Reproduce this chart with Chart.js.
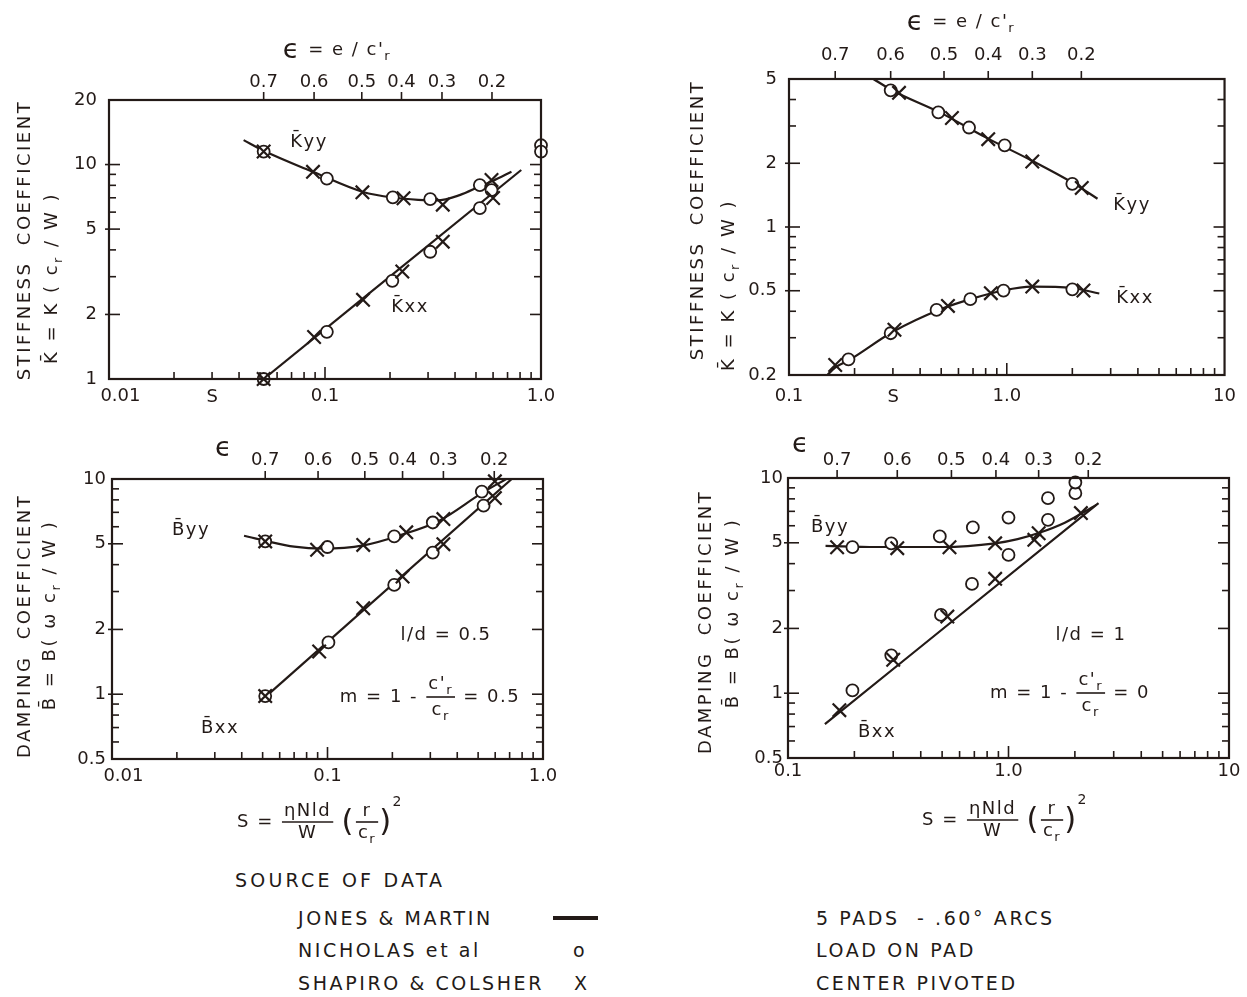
<!DOCTYPE html>
<html>
<head>
<meta charset="utf-8">
<title>Tilting pad bearing coefficients</title>
<script src="https://cdn.jsdelivr.net/npm/chart.js@4.4.1/dist/chart.umd.min.js"></script>
<style>
  body { margin: 0; background: #fff; }
  #page { position: relative; width: 1247px; height: 997px; overflow: hidden; background: #fff;
          font-family: "DejaVu Sans", sans-serif; color: #231a17; }
  #page canvas { position: absolute; }
  .lg { position: absolute; font-size: 19px; line-height: 20px; letter-spacing: 2.6px; white-space: pre; }
  .dash { position: absolute; height: 4px; background: #231a17; }
</style>
</head>
<body>
<div id="page">
  <canvas id="c1" width="624" height="420" style="left:0;top:0"></canvas>
  <canvas id="c2" width="623" height="420" style="left:624px;top:0"></canvas>
  <canvas id="c3" width="624" height="430" style="left:0;top:420px"></canvas>
  <canvas id="c4" width="623" height="430" style="left:624px;top:420px"></canvas>

  <div class="lg" style="left:235px;top:870px;letter-spacing:3.2px">SOURCE OF DATA</div>
  <div class="lg" style="left:298px;top:908px">JONES &amp; MARTIN</div>
  <div class="dash" style="left:553px;top:916px;width:45px"></div>
  <div class="lg" style="left:298px;top:940px">NICHOLAS et al</div>
  <div class="lg" style="left:573px;top:940px">o</div>
  <div class="lg" style="left:298px;top:973px">SHAPIRO &amp; COLSHER</div>
  <div class="lg" style="left:574px;top:973px">X</div>
  <div class="lg" style="left:816px;top:908px">5 PADS  - .60° ARCS</div>
  <div class="lg" style="left:816px;top:940px">LOAD ON PAD</div>
  <div class="lg" style="left:816px;top:973px">CENTER PIVOTED</div>
</div>

<script>
const INK = '#231a17';
const FONT = '"DejaVu Sans", sans-serif';

// ---------- Panel 1: stiffness, l/d = 0.5, m = 0.5 ----------
const p1EpsLabels = ['0.7', '0.6', '0.5', '0.4', '0.3', '0.2'];
const p1EpsS = [0.052, 0.089, 0.148, 0.226, 0.348, 0.593];
const p1XTicks = [0.01, 0.1, 1.0];
const p1XLabels = ['    0.01', '0.1', '1.0'];
const p1YTicks = [1, 2, 5, 10, 20];
const p1YLabels = ['1', '2', '5', '10', '20'];
// Jones & Martin (curves)
const p1KyyLineS = [0.042, 0.052, 0.089, 0.15, 0.21, 0.27, 0.33, 0.42, 0.52, 0.6, 0.73];
const p1KyyLine  = [13.0, 11.6, 9.2, 7.45, 7.0, 6.85, 6.8, 7.2, 7.9, 8.4, 9.25];
const p1KxxLineS = [0.052, 0.81];
const p1KxxLine  = [1.0, 9.43];
// Nicholas et al (circles)
const p1KyyOS = [0.052, 0.102, 0.206, 0.307, 0.521, 1.0, 1.0];
const p1KyyO  = [11.5, 8.6, 7.03, 6.9, 8.02, 12.3, 11.5];
const p1KxxOS = [0.052, 0.102, 0.205, 0.307, 0.521, 0.59];
const p1KxxO  = [1.0, 1.66, 2.87, 3.92, 6.26, 7.6];
// Shapiro & Colsher (crosses)
const p1KyyXS = [0.052, 0.088, 0.149, 0.231, 0.351, 0.59];
const p1KyyX  = [11.5, 9.25, 7.42, 6.96, 6.5, 8.47];
const p1KxxXS = [0.052, 0.089, 0.150, 0.228, 0.351, 0.60];
const p1KxxX  = [1.0, 1.57, 2.34, 3.17, 4.37, 6.98];

// ---------- Panel 2: stiffness, l/d = 1, m = 0 ----------
const p2EpsLabels = ['0.7', '0.6', '0.5', '0.4', '0.3', '0.2'];
const p2EpsS = [0.163, 0.293, 0.515, 0.822, 1.31, 2.20];
const p2XTicks = [0.1, 1.0, 10];
const p2XLabels = ['0.1', '1.0', '10'];
const p2YTicks = [0.2, 0.5, 1, 2, 5];
const p2YLabels = ['0.2', '0.5', '1', '2', '5'];
const p2KyyLineS = [0.244, 0.3, 0.5, 0.8, 1.3, 2.0, 2.61];
const p2KyyLine  = [5.0, 4.4, 3.45, 2.65, 2.06, 1.62, 1.36];
const p2KxxLineS = [0.150, 0.163, 0.19, 0.3, 0.5, 0.7, 0.95, 1.3, 2.0, 2.66];
const p2KxxLine  = [0.2, 0.217, 0.236, 0.32, 0.41, 0.46, 0.50, 0.523, 0.515, 0.485];
const p2KyyOS = [0.293, 0.485, 0.671, 0.978, 2.0];
const p2KyyO  = [4.42, 3.48, 2.95, 2.43, 1.60];
const p2KxxOS = [0.1875, 0.293, 0.476, 0.680, 0.966, 2.0];
const p2KxxO  = [0.237, 0.315, 0.406, 0.456, 0.501, 0.508];
const p2KyyXS = [0.320, 0.560, 0.822, 1.31, 2.21];
const p2KyyX  = [4.30, 3.27, 2.60, 2.04, 1.53];
const p2KxxXS = [0.163, 0.305, 0.537, 0.845, 1.31, 2.25];
const p2KxxX  = [0.223, 0.327, 0.424, 0.487, 0.523, 0.501];

// ---------- Panel 3: damping, l/d = 0.5, m = 0.5 ----------
const p3EpsLabels = ['0.7', '0.6', '0.5', '0.4', '0.3', '0.2'];
const p3EpsS = [0.0514, 0.0904, 0.149, 0.223, 0.345, 0.594];
const p3XTicks = [0.01, 0.1, 1.0];
const p3XLabels = ['    0.01', '0.1', '1.0'];
const p3YTicks = [0.5, 1, 2, 5, 10];
const p3YLabels = ['0.5', '1', '2', '5', '10'];
const p3ByyLineS = [0.041, 0.052, 0.07, 0.095, 0.147, 0.22, 0.33, 0.52, 0.675];
const p3ByyLine  = [5.45, 5.15, 4.85, 4.75, 4.92, 5.5, 6.4, 8.6, 10];
const p3BxxLineS = [0.052, 0.716];
const p3BxxLine  = [0.98, 10];
const p3ByyOS = [0.0514, 0.0999, 0.204, 0.308, 0.520];
const p3ByyO  = [5.13, 4.83, 5.41, 6.28, 8.74];
const p3BxxOS = [0.0514, 0.101, 0.204, 0.308, 0.530];
const p3BxxO  = [0.98, 1.74, 3.22, 4.55, 7.52];
const p3ByyXS = [0.0514, 0.0895, 0.1465, 0.232, 0.345, 0.598];
const p3ByyX  = [5.13, 4.69, 4.94, 5.65, 6.51, 9.75];
const p3BxxXS = [0.0514, 0.0915, 0.1465, 0.223, 0.345, 0.598];
const p3BxxX  = [0.98, 1.58, 2.51, 3.52, 4.98, 8.15];

// ---------- Panel 4: damping, l/d = 1, m = 0 ----------
const p4EpsLabels = ['0.7', '0.6', '0.5', '0.4', '0.3', '0.2'];
const p4EpsS = [0.167, 0.313, 0.551, 0.877, 1.37, 2.30];
const p4XTicks = [0.1, 1.0, 10];
const p4XLabels = ['0.1', '1.0', '10'];
const p4YTicks = [0.5, 1, 2, 5, 10];
const p4YLabels = ['0.5', '1', '2', '5', '10'];
const p4ByyLineS = [0.148, 0.25, 0.5, 0.87, 1.1, 1.37, 1.8, 2.5];
const p4ByyLine  = [4.84, 4.78, 4.78, 4.97, 5.2, 5.55, 6.2, 7.5];
const p4BxxLineS = [0.147, 2.56];
const p4BxxLine  = [0.718, 7.64];
const p4ByyOS = [0.196, 0.294, 0.488, 0.689, 1.0, 1.0, 1.51, 1.51, 2.01, 2.01];
const p4ByyO  = [4.77, 4.97, 5.35, 5.89, 6.55, 4.39, 6.39, 8.06, 8.5, 9.53];
const p4BxxOS = [0.196, 0.294, 0.494, 0.683];
const p4BxxO  = [1.03, 1.50, 2.31, 3.22];
const p4ByyXS = [0.167, 0.313, 0.540, 0.870, 1.37, 2.13];
const p4ByyX  = [4.77, 4.72, 4.77, 4.97, 5.54, 6.87];
const p4BxxXS = [0.171, 0.300, 0.528, 0.870, 1.31];
const p4BxxX  = [0.834, 1.43, 2.27, 3.40, 5.16];

// ---------- text helpers ----------
// "_{..}" = subscript, "^{..}" = superscript
function parseRich(str) {
    const out = [];
    str.split(/(_\{[^}]*\}|\^\{[^}]*\})/).forEach(tok => {
        if (!tok) return;
        if (tok.startsWith('_{')) out.push({ t: tok.slice(2, -1), s: 'sub' });
        else if (tok.startsWith('^{')) out.push({ t: tok.slice(2, -1), s: 'sup' });
        else out.push({ t: tok });
    });
    return out;
}

function setFont(ctx, size) { ctx.font = size + 'px ' + FONT; }

function richWidth(ctx, str, size) {
    let w = 0;
    parseRich(str).forEach(p => {
        setFont(ctx, p.s ? Math.round(size * 0.72) : size);
        w += ctx.measureText(p.t).width;
    });
    return w;
}

function drawRich(ctx, str, x, y, size) {
    parseRich(str).forEach(p => {
        setFont(ctx, p.s ? Math.round(size * 0.72) : size);
        const dy = p.s === 'sub' ? size * 0.36 : p.s === 'sup' ? -size * 0.42 : 0;
        ctx.fillText(p.t, x, y + dy);
        x += ctx.measureText(p.t).width;
    });
    return x;
}

// items: ['t', text] | ['f', num, den] | ['b', text, scale] | ['p', superscript]
function itemWidth(ctx, it, size) {
    if (it[0] === 't') return richWidth(ctx, it[1], size);
    if (it[0] === 'f') return Math.max(richWidth(ctx, it[1], size), richWidth(ctx, it[2], size)) + 6;
    if (it[0] === 'b') { setFont(ctx, size * it[2]); return ctx.measureText(it[1]).width; }
    setFont(ctx, Math.round(size * 0.75)); return ctx.measureText(it[1]).width;
}

function drawFormula(ctx, f) {
    const size = f.size || 18;
    const widths = f.items.map(it => itemWidth(ctx, it, size));
    const total = widths.reduce((a, b) => a + b, 0);
    let x = f.x - total / 2;
    f.items.forEach((it, i) => {
        const w = widths[i];
        if (it[0] === 't') {
            drawRich(ctx, it[1], x, f.y, size);
        } else if (it[0] === 'f') {
            const off = f.fracOff || 12;
            drawRich(ctx, it[1], x + (w - richWidth(ctx, it[1], size)) / 2, f.y - off, size);
            drawRich(ctx, it[2], x + (w - richWidth(ctx, it[2], size)) / 2, f.y + off, size);
            ctx.lineWidth = 1.6;
            ctx.beginPath(); ctx.moveTo(x + 1, f.y); ctx.lineTo(x + w - 1, f.y); ctx.stroke();
        } else if (it[0] === 'b') {
            setFont(ctx, size * it[2]); ctx.fillText(it[1], x, f.y + 1);
        } else {
            setFont(ctx, Math.round(size * 0.75)); ctx.fillText(it[1], x, f.y - size * 1.1);
        }
        x += w;
    });
}

// ---------- annotations per panel (frame, inward ticks, labels) ----------
const notes = {
    c1: {
        eps: p1EpsS, yMajor: p1YTicks,
        texts: [
            { x: 337, y: 50, items: [['b', 'ϵ', 1.5], ['t', " = e / c'_{r}"]] },
            { x: 309, y: 142, items: [['t', 'K\u0304yy']] },
            { x: 410, y: 307, items: [['t', 'K\u0304xx']] },
            { x: 213, y: 397, items: [['t', 'S']] }
        ],
        rot: [
            { x: 25, y: 240, s: 'STIFFNESS  COEFFICIENT' },
            { x: 52, y: 278, s: 'K\u0304 = K ( c_{r} / W )' }
        ]
    },
    c2: {
        eps: p2EpsS, yMajor: p2YTicks,
        texts: [
            { x: 337, y: 22, items: [['b', 'ϵ', 1.5], ['t', " = e / c'_{r}"]] },
            { x: 508, y: 205, items: [['t', 'K\u0304yy']] },
            { x: 511, y: 298, items: [['t', 'K\u0304xx']] },
            { x: 270, y: 397, items: [['t', 'S']] }
        ],
        rot: [
            { x: 74, y: 220, s: 'STIFFNESS  COEFFICIENT' },
            { x: 105, y: 285, s: 'K\u0304 = K ( c_{r} / W )' }
        ]
    },
    c3: {
        eps: p3EpsS, yMajor: p3YTicks,
        texts: [
            { x: 224, y: 28, items: [['b', 'ϵ', 1.5]] },
            { x: 191, y: 110, items: [['t', 'B\u0304yy']] },
            { x: 220, y: 308, items: [['t', 'B\u0304xx']] },
            { x: 446, y: 215, items: [['t', 'l/d = 0.5']] },
            { x: 430, y: 277, fracOff: 13, items: [['t', 'm = 1 - '], ['f', "c'_{r}", 'c_{r}'], ['t', ' = 0.5']] },
            { x: 320, y: 402, fracOff: 11, items: [['t', 'S = '], ['f', 'ηNld', 'W'], ['t', ' '], ['b', '(', 1.7], ['f', 'r', 'c_{r}'], ['b', ')', 1.7], ['p', '2']] }
        ],
        rot: [
            { x: 25, y: 206, s: 'DAMPING  COEFFICIENT' },
            { x: 50, y: 195, s: 'B\u0304 = B( ω c_{r} / W )' }
        ]
    },
    c4: {
        eps: p4EpsS, yMajor: p4YTicks,
        texts: [
            { x: 177, y: 24, items: [['b', 'ϵ', 1.5]] },
            { x: 206, y: 107, items: [['t', 'B\u0304yy']] },
            { x: 253, y: 312, items: [['t', 'B\u0304xx']] },
            { x: 467, y: 215, items: [['t', 'l/d = 1']] },
            { x: 446, y: 273, fracOff: 13, items: [['t', 'm = 1 - '], ['f', "c'_{r}", 'c_{r}'], ['t', ' = 0']] },
            { x: 381, y: 400, fracOff: 11, items: [['t', 'S = '], ['f', 'ηNld', 'W'], ['t', ' '], ['b', '(', 1.7], ['f', 'r', 'c_{r}'], ['b', ')', 1.7], ['p', '2']] }
        ],
        rot: [
            { x: 82, y: 202, s: 'DAMPING  COEFFICIENT' },
            { x: 109, y: 193, s: 'B\u0304 = B( ω c_{r} / W )' }
        ]
    }
};

// values 2..9 x 10^k strictly inside (min, max)
function logMarks(min, max) {
    const out = [];
    for (let k = Math.floor(Math.log10(min)); k <= Math.ceil(Math.log10(max)); k++) {
        for (let m = 1; m <= 9; m++) {
            const v = m * Math.pow(10, k);
            if (v > min * 1.001 && v < max * 0.999) out.push({ v, decade: m === 1 });
        }
    }
    return out;
}

const decoPlugin = {
    id: 'deco',
    afterDraw(chart) {
        const n = notes[chart.canvas.id];
        if (!n) return;
        const ctx = chart.ctx, a = chart.chartArea;
        const sx = chart.scales.x, sy = chart.scales.y;
        const seg = (x1, y1, x2, y2) => { ctx.beginPath(); ctx.moveTo(x1, y1); ctx.lineTo(x2, y2); ctx.stroke(); };
        ctx.save();
        ctx.strokeStyle = INK;
        ctx.fillStyle = INK;
        ctx.lineWidth = 1.6;
        // bottom ticks, pointing in
        logMarks(sx.min, sx.max).forEach(t => {
            const px = sx.getPixelForValue(t.v);
            seg(px, a.bottom, px, a.bottom - (t.decade ? 12 : 7));
        });
        // left and right ticks, pointing in
        logMarks(sy.min, sy.max).forEach(t => {
            const py = sy.getPixelForValue(t.v);
            const big = n.yMajor.some(v => Math.abs(v - t.v) < 1e-9);
            seg(a.left - (big ? 4 : 0), py, a.left + (big ? 11 : 7), py);
            seg(a.right - (big ? 11 : 7), py, a.right, py);
        });
        // eccentricity ticks on top, pointing out
        n.eps.forEach(v => {
            const px = sx.getPixelForValue(v);
            seg(px, a.top, px, a.top - 8);
        });
        // frame
        ctx.lineWidth = 2.2;
        ctx.strokeRect(a.left, a.top, a.right - a.left, a.bottom - a.top);

        ctx.textBaseline = 'middle';
        ctx.textAlign = 'left';
        ctx.letterSpacing = '1.5px';
        n.texts.forEach(f => drawFormula(ctx, f));
        ctx.letterSpacing = '2.5px';
        n.rot.forEach(r => {
            ctx.save();
            ctx.translate(r.x, r.y);
            ctx.rotate(-Math.PI / 2);
            const w = richWidth(ctx, r.s, 18);
            drawRich(ctx, r.s, -w / 2, 0, 18);
            ctx.restore();
        });
        ctx.restore();
    }
};
Chart.register(decoPlugin);

// ---------- chart builders ----------
const pts = (xs, ys) => xs.map((x, i) => ({ x, y: ys[i] }));

function curve(xs, ys) {
    return {
        data: pts(xs, ys), showLine: true, pointRadius: 0, borderColor: INK, borderWidth: 2.2,
        cubicInterpolationMode: 'monotone', order: 3
    };
}
function circles(xs, ys) {
    return {
        data: pts(xs, ys), pointStyle: 'circle', pointRadius: 6, borderWidth: 1.8,
        borderColor: INK, backgroundColor: '#fff', clip: false, order: 2
    };
}
function crosses(xs, ys) {
    return {
        data: pts(xs, ys), pointStyle: 'crossRot', pointRadius: 9.5, borderWidth: 2.2,
        borderColor: INK, backgroundColor: INK, clip: false, order: 1
    };
}

// the axis box gets a fixed size so the plot frame lands where the reference has it
function logAxis(position, min, max, tickVals, tickLabels, padding, size) {
    const vertical = position === 'left';
    return {
        type: 'logarithmic', axis: vertical ? 'y' : 'x', position, min, max,
        grid: { display: false, drawTicks: false },
        border: { display: false },
        afterBuildTicks: s => { s.ticks = tickVals.map(v => ({ value: v })); },
        afterFit: s => { if (vertical) s.width = size; else s.height = size; },
        ticks: {
            autoSkip: false, maxRotation: 0, minRotation: 0, padding, color: INK,
            font: { family: FONT, size: 18 },
            callback: (v, i) => tickLabels[i]
        }
    };
}

function makePanel(id, p) {
    const canvas = document.getElementById(id);
    const [l, t, r, b] = p.area;
    new Chart(canvas, {
        type: 'scatter',
        data: { datasets: p.datasets },
        options: {
            responsive: false, animation: false, events: [],
            layout: { padding: { left: 0, top: 0, right: canvas.width - r, bottom: 0 } },
            plugins: { legend: { display: false }, tooltip: { enabled: false } },
            scales: {
                x: logAxis('bottom', p.xMin, p.xMax, p.xTicks, p.xLabels, p.pad[0], canvas.height - b),
                xe: logAxis('top', p.xMin, p.xMax, p.eps, p.epsLabels, p.pad[1], t),
                y: logAxis('left', p.yMin, p.yMax, p.yTicks, p.yLabels, p.pad[2], l)
            }
        }
    });
}

makePanel('c1', {
    area: [109, 100, 541, 379], pad: [7, 7, 12],
    xMin: 0.01, xMax: 1.0, yMin: 1, yMax: 20,
    xTicks: p1XTicks, xLabels: p1XLabels, yTicks: p1YTicks, yLabels: p1YLabels,
    eps: p1EpsS, epsLabels: p1EpsLabels,
    datasets: [
        curve(p1KyyLineS, p1KyyLine), curve(p1KxxLineS, p1KxxLine),
        circles(p1KyyOS, p1KyyO), circles(p1KxxOS, p1KxxO),
        crosses(p1KyyXS, p1KyyX), crosses(p1KxxXS, p1KxxX)
    ]
});

makePanel('c2', {
    area: [165, 79, 605, 375], pad: [11, 13, 12],
    xMin: 0.1, xMax: 10, yMin: 0.2, yMax: 5,
    xTicks: p2XTicks, xLabels: p2XLabels, yTicks: p2YTicks, yLabels: p2YLabels,
    eps: p2EpsS, epsLabels: p2EpsLabels,
    datasets: [
        curve(p2KyyLineS, p2KyyLine), curve(p2KxxLineS, p2KxxLine),
        circles(p2KyyOS, p2KyyO), circles(p2KxxOS, p2KxxO),
        crosses(p2KyyXS, p2KyyX), crosses(p2KxxXS, p2KxxX)
    ]
});

makePanel('c3', {
    area: [112, 59, 543, 339], pad: [7, 8, 6],
    xMin: 0.01, xMax: 1.0, yMin: 0.5, yMax: 10,
    xTicks: p3XTicks, xLabels: p3XLabels, yTicks: p3YTicks, yLabels: p3YLabels,
    eps: p3EpsS, epsLabels: p3EpsLabels,
    datasets: [
        curve(p3ByyLineS, p3ByyLine), curve(p3BxxLineS, p3BxxLine),
        circles(p3ByyOS, p3ByyO), circles(p3BxxOS, p3BxxO),
        crosses(p3ByyXS, p3ByyX), crosses(p3BxxXS, p3BxxX)
    ]
});

makePanel('c4', {
    area: [164, 58, 605, 338], pad: [3, 7, 5],
    xMin: 0.1, xMax: 10, yMin: 0.5, yMax: 10,
    xTicks: p4XTicks, xLabels: p4XLabels, yTicks: p4YTicks, yLabels: p4YLabels,
    eps: p4EpsS, epsLabels: p4EpsLabels,
    datasets: [
        curve(p4ByyLineS, p4ByyLine), curve(p4BxxLineS, p4BxxLine),
        circles(p4ByyOS, p4ByyO), circles(p4BxxOS, p4BxxO),
        crosses(p4ByyXS, p4ByyX), crosses(p4BxxXS, p4BxxX)
    ]
});
</script>
</body>
</html>
